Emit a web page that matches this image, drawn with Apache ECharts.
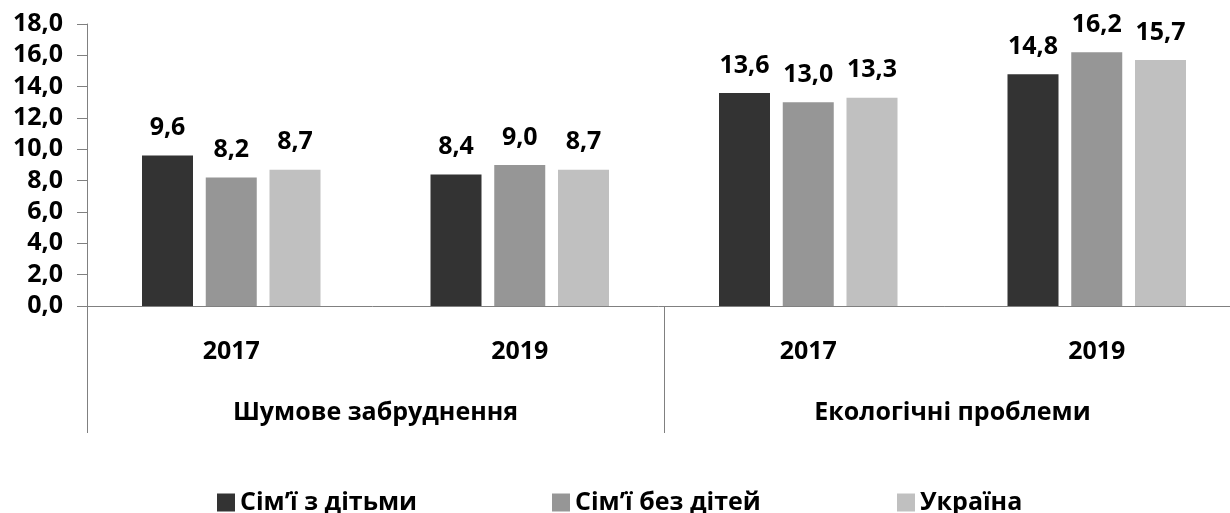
<!DOCTYPE html>
<html>
<head>
<meta charset="utf-8">
<script src="https://cdn.jsdelivr.net/npm/echarts@6/dist/echarts.min.js"></script>
<style>
html,body{margin:0;padding:0;background:#fff;}
#chart{width:1230px;height:513px;}
</style>
</head>
<body>
<div id="chart"></div>
<script>
// категорії
var years = ['2017', '2019', '2017', '2019'];
var groups = ['Шумове забруднення', 'Екологічні проблеми'];
var seriesNames = ['Сім’ї з дітьми', 'Сім’ї без дітей', 'Україна'];
// значення
var withKids = [9.6, 8.4, 13.6, 14.8];
var noKids = [8.2, 9.0, 13.0, 16.2];
var ukraine = [8.7, 8.7, 13.3, 15.7];
var colors = ['#333333', '#969696', '#c0c0c0'];

var font = '"Open Sans", sans-serif';
var fmt = function (v) { return Number(v).toFixed(1).replace('.', ','); };

var myChart = echarts.init(document.getElementById('chart'));

function bar(name, data, color) {
	return {
		name: name,
		type: 'bar',
		data: data,
		barWidth: 51,
		barGap: '25%',
		itemStyle: { color: color },
		label: {
			show: true,
			position: 'top',
			distance: 15,
			formatter: function (p) { return fmt(p.value); },
			color: '#000',
			fontFamily: font,
			fontWeight: 'bold',
			fontSize: 25
		}
	};
}

// окремі легенди, щоб розставити елементи як в оригіналі
function legendItem(i, left) {
	return {
		left: left,
		top: 485,
		itemWidth: 18,
		itemHeight: 18,
		itemGap: 6,
		icon: 'rect',
		selectedMode: false,
		textStyle: { fontFamily: font, fontWeight: 'bold', fontSize: 25, color: '#000' },
		data: [seriesNames[i]]
	};
}

var option = {
	animation: false,
	color: colors,
	grid: { left: 87, top: 24, width: 1154, height: 282, containLabel: false, outerBoundsMode: 'none' },
	legend: [legendItem(0, 212), legendItem(1, 547), legendItem(2, 892)],
	xAxis: [
		{
			type: 'category',
			data: years,
			axisLine: { show: true, lineStyle: { color: '#808080', width: 1 } },
			axisTick: { show: false },
			axisLabel: { margin: 33, color: '#000', fontFamily: font, fontWeight: 'bold', fontSize: 25 }
		},
		{
			// другий рівень підписів, тіки = вертикальні роздільники
			type: 'category',
			position: 'bottom',
			data: groups,
			axisLine: { show: false },
			axisTick: { show: true, length: 127, alignWithLabel: false, interval: 0, lineStyle: { color: '#808080' } },
			axisLabel: { margin: 94, color: '#000', fontFamily: font, fontWeight: 'bold', fontSize: 25 }
		}
	],
	yAxis: {
		type: 'value',
		min: 0,
		max: 18,
		interval: 2,
		axisLine: { show: true, lineStyle: { color: '#808080' } },
		axisTick: { show: true, length: 10, lineStyle: { color: '#808080' } },
		splitLine: { show: false },
		axisLabel: { margin: 24, formatter: fmt, color: '#000', fontFamily: font, fontWeight: 'bold', fontSize: 25 }
	},
	series: [
		bar(seriesNames[0], withKids, colors[0]),
		bar(seriesNames[1], noKids, colors[1]),
		bar(seriesNames[2], ukraine, colors[2])
	]
};
myChart.setOption(option);
</script>
</body>
</html>
